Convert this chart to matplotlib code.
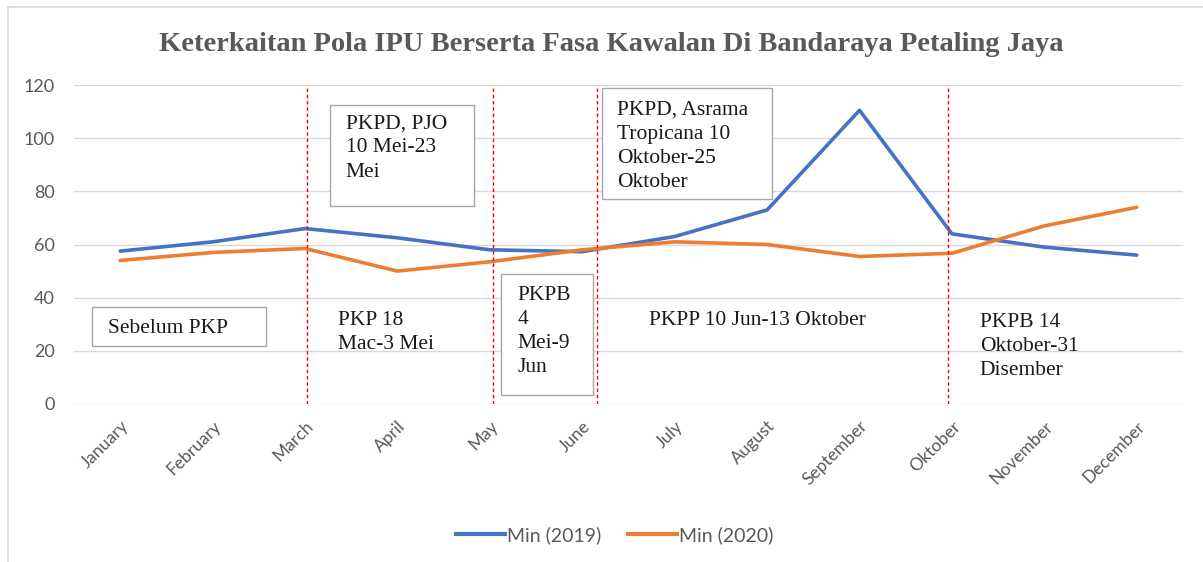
import matplotlib.pyplot as plt
import matplotlib.transforms as mtransforms
from matplotlib.patches import Rectangle
from matplotlib.lines import Line2D

months = ['January', 'February', 'March', 'April', 'May', 'June', 'July',
          'August', 'September', 'Oktober', 'November', 'December']
min_2019 = [57.5, 61, 66, 62.5, 58, 57.3, 63, 73, 110.5, 64, 59, 56]
min_2020 = [54, 57, 58.5, 50, 53.5, 58, 61, 60, 55.5, 56.7, 67, 74]

# phase boundaries (category units)
phase_breaks = [2.02, 4.03, 5.16, 8.96]

# boxed notes: (text, box x0, box x1, box y0, box y1, text x, text top)
boxed_notes = [
    ('Sebelum PKP', -0.30, 1.58, 21.8, 36.5, -0.13, None),
    ('PKPD, PJO\n10 Mei-23\nMei', 2.27, 3.83, 74.6, 112.3, 2.44, 109),
    ('PKPB\n4\nMei-9\nJun', 4.12, 5.12, 3.4, 48.9, 4.30, 44.5),
    ('PKPD, Asrama\nTropicana 10\nOktober-25\nOktober', 5.21, 7.05, 77.1, 118.9, 5.38, 114),
]
plain_notes = [
    ('PKP 18\nMac-3 Mei', 2.36, 35),
    ('PKPP 10 Jun-13 Oktober', 5.72, 35),
    ('PKPB 14\nOktober-31\nDisember', 9.30, 34.3),
]

fig = plt.figure(figsize=(12.03, 5.62), dpi=100)
ax = fig.add_axes([74 / 1203, 158 / 562, 1109 / 1203, 319 / 562])

x = list(range(len(months)))
ax.plot(x, min_2019, color='#4472C4', lw=2.6, solid_capstyle='round', zorder=3)
ax.plot(x, min_2020, color='#ED7D31', lw=2.6, solid_capstyle='round', zorder=3)

for b in phase_breaks:
    ax.plot([b, b], [0, 120], color='red', lw=1.0, ls=(0, (2.5, 2)), zorder=4)

serif = 'Liberation Serif'
note_style = dict(family=serif, fontsize=15.5, color='#1a1a1a', ha='left',
                  multialignment='left', linespacing=1.37, zorder=6)
for txt, x0, x1, y0, y1, tx, ty in boxed_notes:
    ax.add_patch(Rectangle((x0, y0), x1 - x0, y1 - y0, facecolor='white',
                           edgecolor='#a6a6a6', lw=1.0, zorder=5))
    if ty is None:
        ax.text(tx, (y0 + y1) / 2 - 0.8, txt, va='center', **note_style)
    else:
        ax.text(tx, ty, txt, va='top', **note_style)
for txt, tx, ty in plain_notes:
    ax.text(tx, ty, txt, va='top', **note_style)

ax.set_xlim(-0.5, 11.5)
ax.set_ylim(0, 120)
ax.set_yticks(range(0, 121, 20))
ax.set_xticks(x)
ax.set_xticklabels(months, rotation=45, ha='right', rotation_mode='anchor',
                   family='Lato', fontsize=12.5, color='#595959')
offset = mtransforms.ScaledTranslation(6 / 72, 0, fig.dpi_scale_trans)
for lab in ax.get_xticklabels():
    lab.set_transform(lab.get_transform() + offset)
for lab in ax.get_yticklabels():
    lab.set_family('Lato')
    lab.set_fontsize(13)
    lab.set_color('#595959')
ax.tick_params(axis='both', length=0)
ax.tick_params(axis='y', pad=14)
ax.tick_params(axis='x', pad=10)
ax.grid(axis='y', color='#d9d9d9', lw=1)
ax.set_axisbelow(True)
for s in ax.spines.values():
    s.set_visible(False)

fig.text(0.508, 0.92, 'Keterkaitan Pola IPU Berserta Fasa Kawalan Di Bandaraya Petaling Jaya',
         family=serif, fontweight='bold', fontsize=20.5, color='#595959',
         ha='center', va='center')

handles = [Line2D([], [], color='#4472C4', lw=3),
           Line2D([], [], color='#ED7D31', lw=3)]
fig.legend(handles, ['Min (2019)', 'Min (2020)'], loc='center',
           bbox_to_anchor=(0.511, 0.048), ncol=2, frameon=False,
           handlelength=2.5, handletextpad=0.1, columnspacing=1.4,
           prop={'family': 'Lato', 'size': 14}, labelcolor='#595959')

# outer chart border (top and left edges visible in the reference)
fig.add_artist(Line2D([8 / 1203, 8 / 1203], [0, 1 - 7 / 562],
                      transform=fig.transFigure, color='#d9d9d9', lw=1.2))
fig.add_artist(Line2D([8 / 1203, 1], [1 - 7 / 562, 1 - 7 / 562],
                      transform=fig.transFigure, color='#d9d9d9', lw=1.2))

fig.savefig('out.png', dpi=100)
